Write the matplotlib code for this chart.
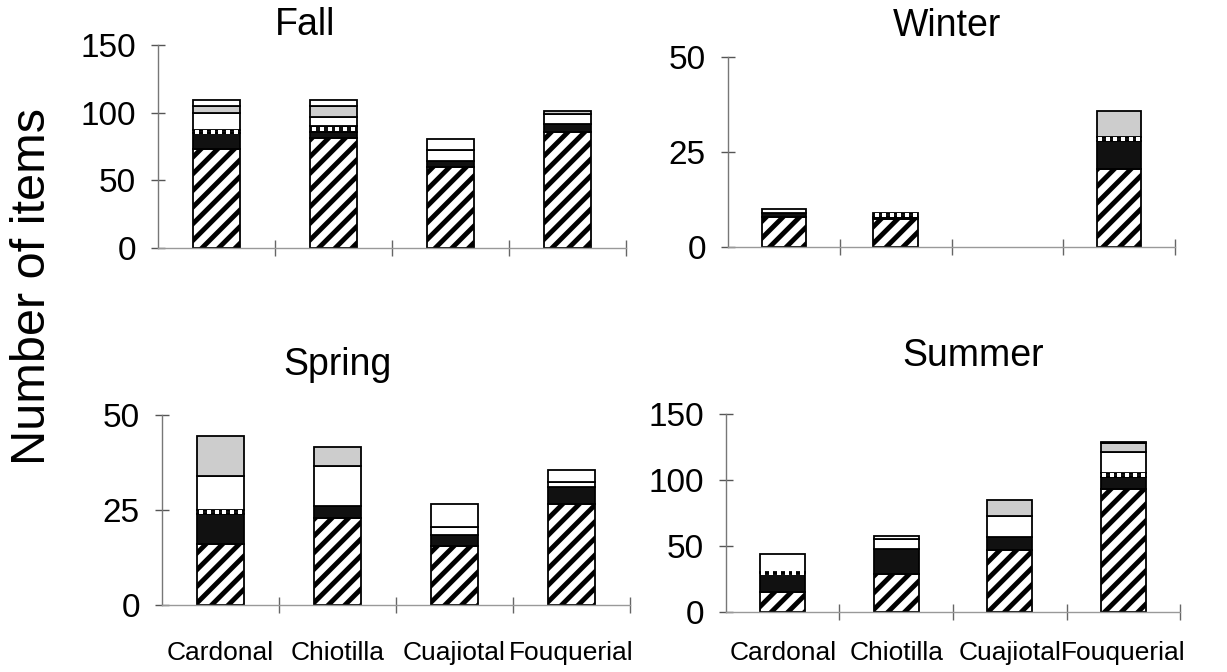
import numpy as np
import matplotlib.pyplot as plt

plt.rcParams['font.family'] = ['Liberation Sans', 'DejaVu Sans']
plt.rcParams['hatch.linewidth'] = 3.5

sites = ['Cardonal', 'Chiotilla', 'Cuajiotal', 'Fouquerial']

# stacked item counts per site, bottom layer first
fall_hatched = [73, 81, 60, 85.5]
fall_black = [12, 5, 4, 6]
fall_dotted = [2, 4, 0, 0]
fall_white = [13, 7, 8.5, 7.5]
fall_gray = [5, 8, 0, 2.5]
fall_top = [4, 4, 8, 0]

winter_hatched = [8, 7.5, 0, 20.5]
winter_black = [1, 0.5, 0, 7.3]
winter_dotted = [0, 1, 0, 1.2]
winter_white = [1, 0, 0, 0]
winter_gray = [0, 0, 0, 6.9]
winter_top = [0, 0, 0, 0]

spring_hatched = [16, 23, 15.5, 26.5]
spring_black = [8, 3, 3, 4.5]
spring_dotted = [1, 0, 0, 0]
spring_white = [9, 10.5, 2, 1.5]
spring_gray = [10.5, 5, 0, 0]
spring_top = [0, 0, 6, 3]

summer_hatched = [15, 28.5, 47, 93]
summer_black = [14.5, 19.5, 10, 9]
summer_dotted = [0.7, 0, 0, 3]
summer_white = [14, 7, 15.5, 16]
summer_gray = [0, 0, 12, 7]
summer_top = [0, 2.5, 0, 1]

fall_ticks = [0, 50, 100, 150]
winter_ticks = [0, 25, 50]
spring_ticks = [0, 25, 50]
summer_ticks = [0, 50, 100, 150]

fig = plt.figure(figsize=(12.27, 6.72), dpi=100)

W, H = 1227, 672


def add_panel(left, top, right, bottom):
    return fig.add_axes([left / W, 1 - bottom / H, (right - left) / W, (bottom - top) / H])


def draw_season(ax, layers, yticks, show_labels, label_pad):
    x = np.arange(len(sites))
    width = 0.4
    base = np.zeros(len(sites))
    styles = [
        dict(facecolor='white', edgecolor='black', hatch='//'),
        dict(facecolor='#111111', edgecolor='black'),
        dict(facecolor='#111111', edgecolor='black'),   # dotted band
        dict(facecolor='white', edgecolor='black'),
        dict(facecolor='#cdcdcd', edgecolor='black'),
        dict(facecolor='white', edgecolor='black'),
    ]
    for i, (vals, st) in enumerate(zip(layers, styles)):
        vals = np.asarray(vals, dtype=float)
        keep = vals > 0
        if keep.any():
            ax.bar(x[keep], vals[keep], width, bottom=base[keep], linewidth=1.3,
                   zorder=2, **st)
            if i == 2:
                # row of white dots across the dotted band
                for xi, b, v in zip(x[keep], base[keep], vals[keep]):
                    dx = np.linspace(xi - width / 2 + 0.03, xi + width / 2 - 0.03, 6)
                    ax.scatter(dx, np.full(dx.size, b + v / 2), marker='s', s=9,
                               color='white', linewidths=0, zorder=3)
        base += vals

    ax.set_xlim(-0.5, len(sites) - 0.5)
    ax.set_ylim(yticks[0], yticks[-1])
    ax.set_yticks(yticks)
    ax.set_xticks(x)
    ax.set_xticks(np.arange(len(sites)) + 0.5, minor=True)
    if show_labels:
        ax.set_xticklabels(sites, fontsize=19)
    else:
        ax.set_xticklabels([])
    ax.tick_params(axis='x', which='major', length=0, pad=label_pad)
    ax.tick_params(axis='x', which='minor', direction='inout', length=12,
                   width=1, color='#666666')
    ax.tick_params(axis='y', direction='inout', length=10, width=1,
                   color='#555555', labelsize=24, pad=11)
    for side in ['top', 'right']:
        ax.spines[side].set_visible(False)
    ax.spines['left'].set_color('#777777')
    ax.spines['bottom'].set_color('#999999')
    ax.spines['left'].set_linewidth(1)
    ax.spines['bottom'].set_linewidth(1)


ax_fall = add_panel(158, 45, 626, 248)
draw_season(ax_fall, [fall_hatched, fall_black, fall_dotted, fall_white, fall_gray, fall_top],
            fall_ticks, False, 0)

ax_winter = add_panel(728, 57, 1175, 247)
draw_season(ax_winter, [winter_hatched, winter_black, winter_dotted, winter_white, winter_gray, winter_top],
            winter_ticks, False, 0)

ax_spring = add_panel(162, 415, 630, 605)
draw_season(ax_spring, [spring_hatched, spring_black, spring_dotted, spring_white, spring_gray, spring_top],
            spring_ticks, True, 26)

ax_summer = add_panel(726, 414, 1180, 612)
draw_season(ax_summer, [summer_hatched, summer_black, summer_dotted, summer_white, summer_gray, summer_top],
            summer_ticks, True, 21)

# season titles
fig.text(305 / W, 1 - 35 / H, 'Fall', fontsize=27, ha='center', va='baseline')
fig.text(947 / W, 1 - 36 / H, 'Winter', fontsize=27, ha='center', va='baseline')
fig.text(337 / W, 1 - 375 / H, 'Spring', fontsize=27, ha='center', va='baseline')
fig.text(973 / W, 1 - 366 / H, 'Summer', fontsize=27, ha='center', va='baseline')

fig.text(33 / W, 1 - 287 / H, 'Number of items', fontsize=35, rotation=90,
         ha='center', va='center')

fig.savefig('out.png', dpi=100, facecolor='white')
